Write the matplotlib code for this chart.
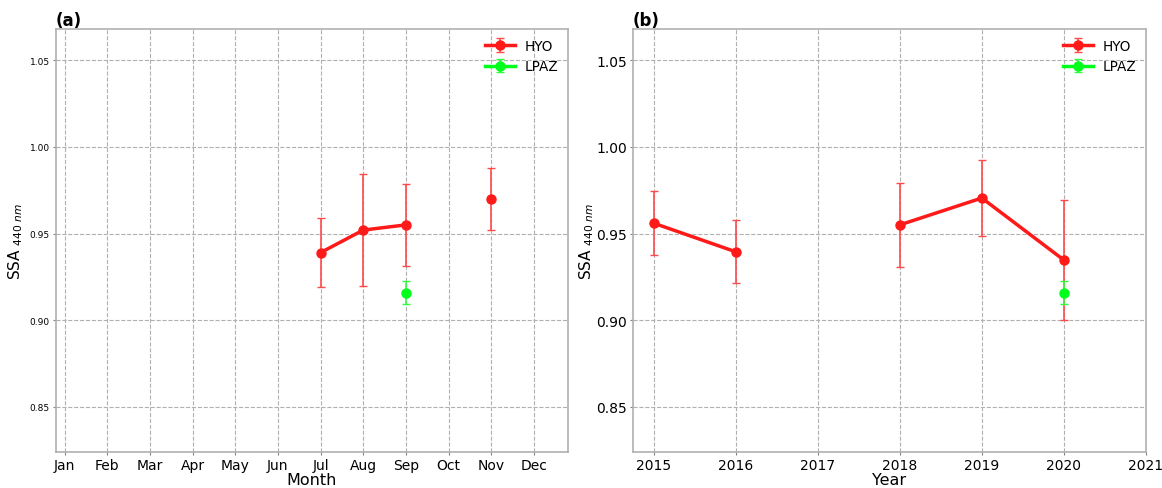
import numpy as np
import matplotlib
matplotlib.use("Agg")
import matplotlib.pyplot as plt

months = ["Jan", "Feb", "Mar", "Apr", "May", "Jun", "Jul", "Aug", "Sep", "Oct", "Nov", "Dec"]
month_num = list(range(1, 13))
hyo_month = [np.nan]*6 + [0.939, 0.952, 0.955, np.nan, 0.970, np.nan]
hyo_month_err = [np.nan]*6 + [0.020, 0.0325, 0.0235, np.nan, 0.018, np.nan]
lpaz_month_x = [9]
lpaz_month = [0.916]
lpaz_month_err = [0.0064]

years = [2015, 2016, 2017, 2018, 2019, 2020]
year_ticks = [2015, 2016, 2017, 2018, 2019, 2020, 2021]
hyo_year = [0.956, 0.9395, np.nan, 0.955, 0.9705, 0.9347]
hyo_year_err = [0.0184, 0.0182, np.nan, 0.0241, 0.0217, 0.0347]
lpaz_year_x = [2020]
lpaz_year = [0.916]
lpaz_year_err = [0.0064]

RED = "#ff1a1a"
RED_ERR = "#ff4a4a"
GREEN = "#00ff1a"
GREEN_ERR = "#30ff40"

fig = plt.figure(figsize=(11.62, 4.89), dpi=100)
ax1 = fig.add_axes([0.0482, 0.0736, 0.4406, 0.8651])
ax2 = fig.add_axes([0.5448, 0.0736, 0.4414, 0.8651])

def draw(ax, x, y, yerr, lx, ly, lerr):
    ax.errorbar(x, y, yerr=yerr, color=RED, lw=2.5, marker='o', ms=6.5,
                ecolor=RED_ERR, elinewidth=1.2, capsize=3, label='HYO')
    ax.errorbar(lx, ly, yerr=lerr, color=GREEN, lw=2.5, marker='o', ms=6.5,
                ecolor=GREEN_ERR, elinewidth=1.2, capsize=3, label='LPAZ')
    ax.set_ylim(0.824, 1.068)
    ax.set_yticks([0.85, 0.90, 0.95, 1.00, 1.05])
    ax.grid(True, linestyle='--', color='#b0b0b0', lw=0.8)
    for s in ax.spines.values():
        s.set_color('#b0b0b0')
        s.set_linewidth(1.2)
    ax.tick_params(length=2.5, pad=2, color='#808080')
    ax.set_ylabel(r'SSA $_{\mathit{440\ nm}}$', fontsize=11)
    ax.legend(loc='upper right', frameon=False, fontsize=9.8, handlelength=2.2,
              borderaxespad=0.3, handletextpad=0.7)

draw(ax1, month_num, hyo_month, hyo_month_err, lpaz_month_x, lpaz_month, lpaz_month_err)
ax1.set_xlim(0.8, 12.8)
ax1.set_xticks(month_num)
ax1.set_xticklabels(months, fontsize=10)
ax1.tick_params(axis='y', labelsize=6.5)
ax1.set_xlabel('Month', fontsize=11.5, labelpad=0)
ax1.yaxis.set_label_coords(-0.0605, 0.5)
ax1.set_title('(a)', loc='left', fontweight='bold', fontsize=12, pad=3, x=0.0)

draw(ax2, years, hyo_year, hyo_year_err, lpaz_year_x, lpaz_year, lpaz_year_err)
ax2.set_xlim(2014.75, 2021)
ax2.set_xticks(year_ticks)
ax2.set_xticklabels([str(y) for y in year_ticks], fontsize=10)
ax2.tick_params(axis='y', labelsize=10)
ax2.set_xlabel('Year', fontsize=11.5, labelpad=0)
ax2.yaxis.set_label_coords(-0.072, 0.5)
ax2.set_title('(b)', loc='left', fontweight='bold', fontsize=12, pad=3, x=0.0)

fig.savefig('out.png', dpi=100)
